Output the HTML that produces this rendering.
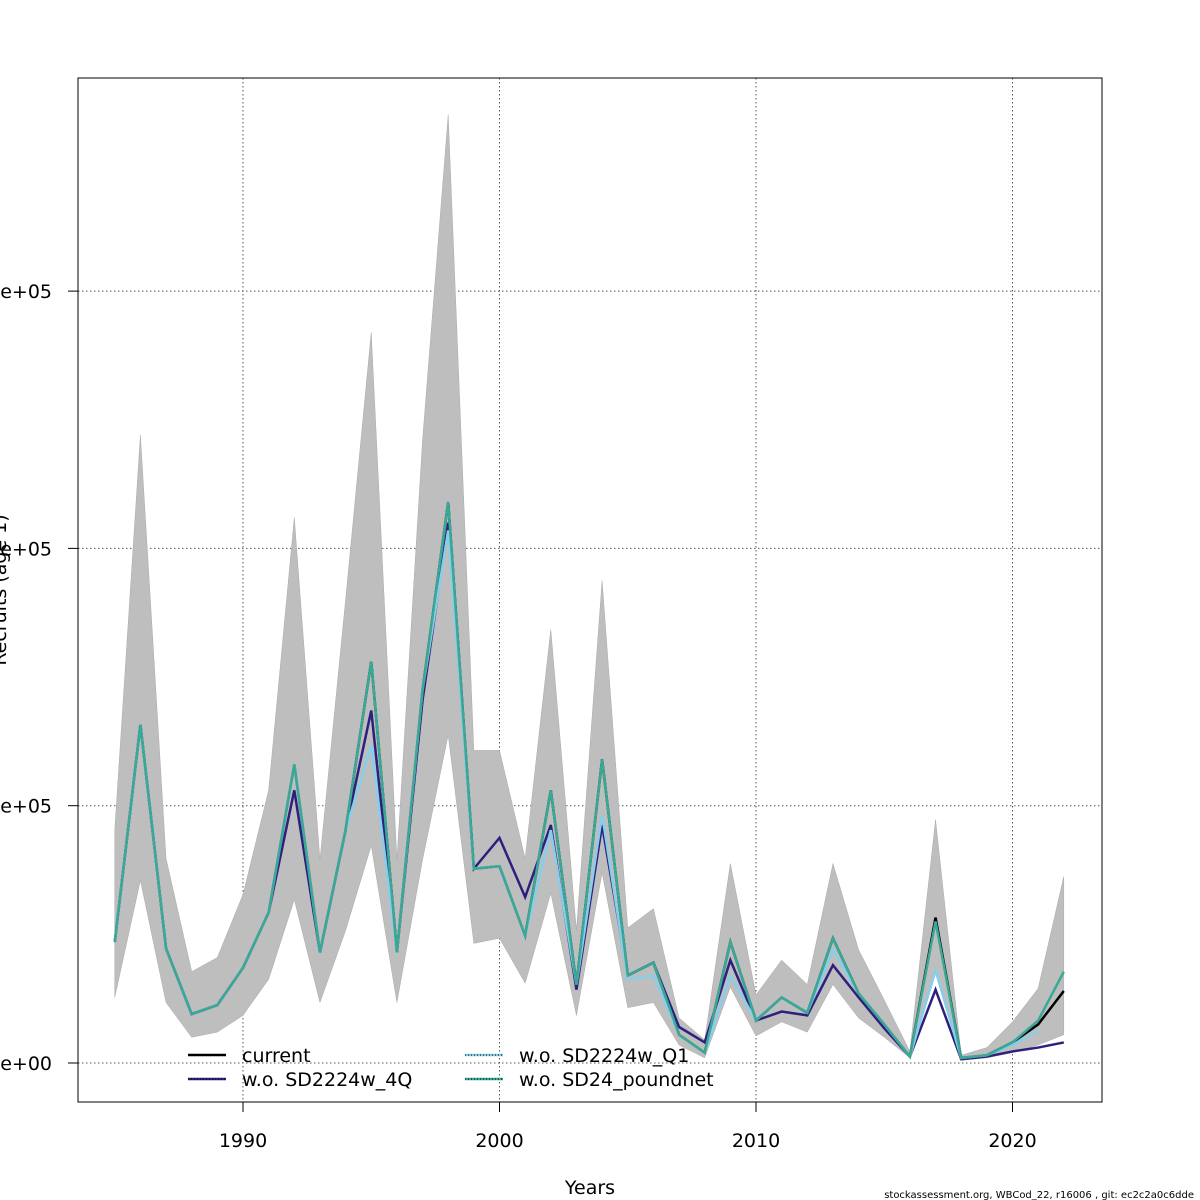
<!DOCTYPE html>
<html><head><meta charset="utf-8"><style>
body{margin:0;background:#fff;}
svg{display:block;font-family:"DejaVu Sans","Liberation Sans",sans-serif;}
</style></head><body>
<svg id="chart" width="1200" height="1200" viewBox="0 0 1200 1200">
<g id="grid"></g>
<g id="marks"></g>
<rect x="78" y="78" width="1024" height="1024" fill="none" stroke="#000" stroke-width="1"/>
<g id="axes"></g>
<text x="590" y="1194" font-size="19" text-anchor="middle">Years</text>
<text transform="translate(6,590) rotate(-90)" font-size="19" text-anchor="middle">Recruits (age 1)</text>
<text x="1194" y="1198" font-size="10" text-anchor="end">stockassessment.org, WBCod_22, r16006 , git: ec2c2a0c6dde</text>
<g id="legend"></g>
</svg>
<script>
const years=[];for(let y=1985;y<=2022;y++)years.push(y);
const current=[94,263,89,38,45,74,117,232,86,181,312,86,290,436,151,153,99,212,61,236,68,78,22,8,94,33,51,39,97,54,30,5,113,4,6,16,30,56];
const wo4Q=[94,263,89,38,45,74,117,212,86,181,274,86,282,420,151,175,129,185,57,185,68,78,28,16,80,33,40,37,76,51,27,5,57,3,5,9,12,16];
const woQ1=[94,263,89,38,45,74,117,232,86,181,247,86,290,414,151,153,99,181,61,193,65,68,22,8,68,33,51,39,88,54,30,5,72,4,6,14,25,null];
const woPound=[94,263,89,38,45,74,117,232,86,181,312,86,290,436,151,153,99,212,61,236,68,78,22,8,94,33,51,39,97,54,30,5,110,4,6,16,33,71];
const upper=[181,488,159,71,82,131,212,424,158,360,568,158,484,737,243,243,159,337,103,375,105,120,35,18,155,53,80,61,155,88,49,9,189,6,12,32,58,145];
const lower=[51,142,47,20,24,37,65,127,47,103,169,47,158,255,93,97,62,132,37,148,43,47,14,4,59,21,32,24,61,35,20,4,74,2,4,8,14,22];
const xTicks=[1990,2000,2010,2020];
const yTicks=[0,200,400,600];
const yTickLabels=["0e+00","2e+05","4e+05","6e+05"];
const ns="http://www.w3.org/2000/svg";
const X=y=>243+(y-1990)*25.65;
const Y=v=>1063-v*1.2865;
function mk(t,a,p){const e=document.createElementNS(ns,t);for(const k in a)e.setAttribute(k,a[k]);p.appendChild(e);return e;}
const grid=document.getElementById('grid'),marks=document.getElementById('marks'),axes=document.getElementById('axes'),leg=document.getElementById('legend');
xTicks.forEach(t=>{const l=mk('line',{x1:X(t),x2:X(t),y1:78,y2:1102,stroke:'#555','stroke-dasharray':'1.5,2.5'},grid);

const k=mk('line',{x1:X(t),x2:X(t),y1:1102,y2:1112,stroke:'#000'},axes);

const tx=mk('text',{x:X(t),y:1147,'font-size':19,'text-anchor':'middle'},axes);tx.textContent=t;
});
yTicks.forEach((t,i)=>{const l=mk('line',{x1:78,x2:1102,y1:Y(t),y2:Y(t),stroke:'#555','stroke-dasharray':'1.5,2.5'},grid);

const k=mk('line',{x1:68,x2:78,y1:Y(t),y2:Y(t),stroke:'#000'},axes);

const tx=mk('text',{x:52,y:Y(t)+7,'font-size':19,'text-anchor':'end'},axes);tx.textContent=yTickLabels[i];
});
let pts=years.map((y,i)=>X(y)+','+Y(upper[i]));
for(let i=years.length-1;i>=0;i--)pts.push(X(years[i])+','+Y(lower[i]));
const band=mk('polygon',{points:pts.join(' '),fill:'#bebebe',stroke:'#aaa','stroke-width':0.5},marks);

function line(arr,col,name,w){const p=[];arr.forEach((v,i)=>{if(v!==null)p.push(X(years[i])+','+Y(v));});
const e=mk('polyline',{points:p.join(' '),fill:'none',stroke:col,'stroke-width':w},marks);
}
line(current,'#000','line-current',2.5);
line(wo4Q,'#2e1f7f','line-wo-sd2224w-4q',2.5);
line(woQ1,'#87ceeb','line-wo-sd2224w-q1',2.5);
line(woPound,'#3aa896','line-wo-sd24-poundnet',2.5);
const L=[["current","#000",188,1055],["w.o. SD2224w_4Q","#2e1f7f",188,1079],["w.o. SD2224w_Q1","#87ceeb",465,1055],["w.o. SD24_poundnet","#3aa896",465,1079]];
L.forEach(d=>{const s=mk('line',{x1:d[2],x2:d[2]+38,y1:d[3],y2:d[3],stroke:d[1],'stroke-width':2.5},leg);

if(d[0]!=="current"){const s2=mk('line',{x1:d[2],x2:d[2]+38,y1:d[3],y2:d[3],stroke:'#000','stroke-width':1,'stroke-dasharray':'1,2'},leg);
}
const t=mk('text',{x:d[2]+54,y:d[3]+7,'font-size':19},leg);t.textContent=d[0];
});
</script>
</body></html>
